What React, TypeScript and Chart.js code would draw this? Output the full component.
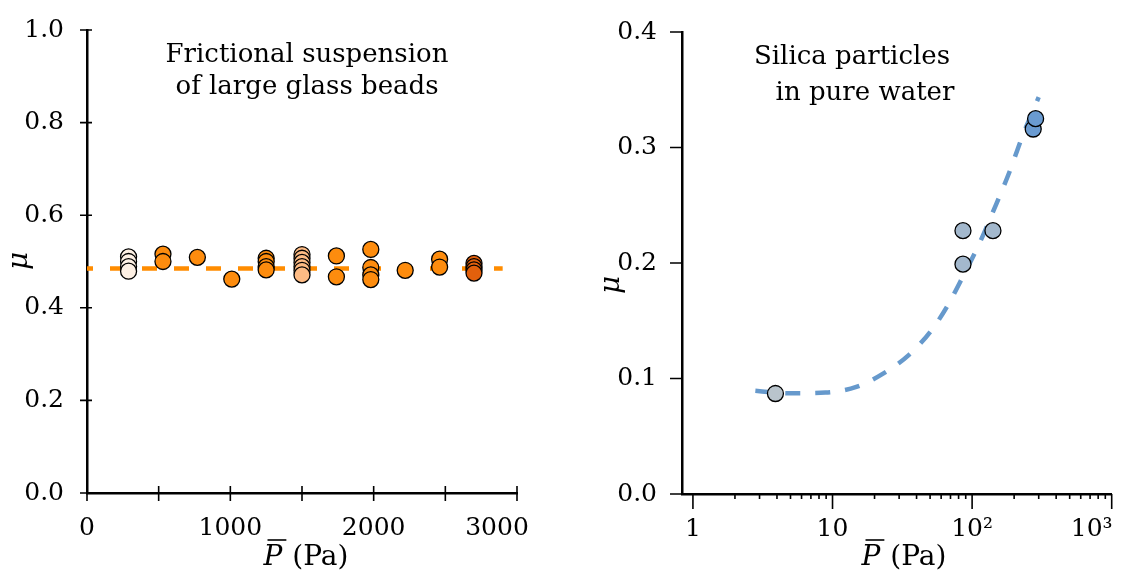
import React, { useEffect, useRef } from 'react';
import { Chart, registerables } from 'chart.js';

Chart.register(...registerables);

const FONT = '"DejaVu Serif", "Liberation Serif", serif';

// ---------- Left panel: frictional suspension of large glass beads ----------
const glassPressure = [290, 530, 770, 1010, 1250, 1500, 1740, 1980, 2220, 2460, 2700];
const glassMu: number[][] = [
  [0.51, 0.5, 0.489, 0.479],
  [0.516, 0.5],
  [0.509],
  [0.462],
  [0.507, 0.5, 0.489, 0.482],
  [0.515, 0.507, 0.498, 0.489, 0.481, 0.471],
  [0.512, 0.467],
  [0.526, 0.487, 0.471, 0.461],
  [0.481],
  [0.505, 0.488],
  [0.496, 0.489, 0.482, 0.475],
];
const glassColors = [
  '#fdf0e4', '#fd8c0e', '#fd8c0e', '#fd8c0e', '#fd8c0e', '#fdbb84',
  '#fd8c0e', '#fd8c0e', '#fd8c0e', '#fd8c0e', '#e2600c',
];
const glassFitP = [0, 2900];
const glassFitMu = [0.485, 0.485];
const glassYTicks = [0, 0.2, 0.4, 0.6, 0.8, 1.0];
const glassYLabels = ['0.0', '0.2', '0.4', '0.6', '0.8', '1.0'];
const glassXTicks = [0, 500, 1000, 1500, 2000, 2500, 3000];
const glassXLabelValues = [0, 1000, 2000, 3000];
const glassXLabels = ['0', '1000', '2000', '3000'];
const glassTitle = ['Frictional suspension', 'of large glass beads'];

// ---------- Right panel: silica particles in pure water ----------
const silicaPressure = [3.9, 86, 141, 86, 274, 285];
const silicaMu = [0.087, 0.228, 0.228, 0.199, 0.316, 0.325];
const silicaColors = ['#b9c4cc', '#a3b8cd', '#a3b8cd', '#a3b8cd', '#6a9bd1', '#6a9bd1'];
const silicaFitP = [2.8, 3.9, 5.1, 8.9, 14.8, 23.5, 35.3, 50.2, 65.8, 86.3, 113, 141, 184.5, 229, 300];
const silicaFitMu = [0.0893, 0.0878, 0.0872, 0.0878, 0.0927, 0.1049, 0.1205, 0.1405, 0.1618, 0.1887, 0.2172, 0.2442, 0.2783, 0.3096, 0.3437];
const silicaYTicks = [0, 0.1, 0.2, 0.3, 0.4];
const silicaYLabels = ['0.0', '0.1', '0.2', '0.3', '0.4'];
const silicaXMajor = [1, 10, 100, 1000];
const silicaXLabels = ['1', '10', '10²', '10³'];
const silicaXMinor = [2, 3, 4, 5, 6, 7, 8, 9, 20, 30, 40, 50, 60, 70, 80, 90, 200, 300, 400, 500, 600, 700, 800, 900];
const silicaTitle = ['Silica particles', 'in pure water'];

type DecorCfg = {
  name: string;
  yTicks: number[];
  yOut: number;
  yIn: number;
  xMajor: number[];
  xMinor: number[];
  xOut: number;
  xIn: number;
  xMinorOut: number;
  xLabelValues: number[];
  xLabels: string[];
  lastLabelShift: number;
  titleLines: string[];
  titleCenters: number[];
  titleBaselines: number[];
  xTitleCenter: number;
  muPos: [number, number];
};

function makeDecor(cfg: DecorCfg) {
  return {
    id: 'decor-' + cfg.name,
    afterDraw(chart: any) {
      const ctx: CanvasRenderingContext2D = chart.ctx;
      const xs = chart.scales.x;
      const ys = chart.scales.y;
      const a = chart.chartArea;
      ctx.save();
      ctx.strokeStyle = '#000';
      ctx.fillStyle = '#000';
      ctx.lineWidth = 1.6;
      ctx.beginPath();
      for (const v of cfg.yTicks) {
        const py = ys.getPixelForValue(v);
        ctx.moveTo(a.left - cfg.yOut, py);
        ctx.lineTo(a.left + cfg.yIn, py);
      }
      for (const v of cfg.xMajor) {
        const px = xs.getPixelForValue(v);
        ctx.moveTo(px, a.bottom - cfg.xIn);
        ctx.lineTo(px, a.bottom + cfg.xOut);
      }
      for (const v of cfg.xMinor) {
        const px = xs.getPixelForValue(v);
        ctx.moveTo(px, a.bottom);
        ctx.lineTo(px, a.bottom + cfg.xMinorOut);
      }
      ctx.stroke();

      // x tick labels
      ctx.font = `25px ${FONT}`;
      ctx.textAlign = 'center';
      ctx.textBaseline = 'middle';
      cfg.xLabelValues.forEach((v, i) => {
        let px = xs.getPixelForValue(v);
        if (i === cfg.xLabelValues.length - 1) px += cfg.lastLabelShift;
        ctx.fillText(cfg.xLabels[i], px, a.bottom + 35);
      });

      // x axis title: P-bar (Pa)
      ctx.textBaseline = 'alphabetic';
      ctx.textAlign = 'left';
      const base = 565;
      ctx.font = `italic 28px ${FONT}`;
      const wP = ctx.measureText('P').width;
      ctx.font = `28px ${FONT}`;
      const wGap = 10;
      const wRest = ctx.measureText('(Pa)').width;
      const x0 = cfg.xTitleCenter - (wP + wGap + wRest) / 2;
      ctx.font = `italic 28px ${FONT}`;
      ctx.fillText('P', x0, base);
      ctx.lineWidth = 1.6;
      ctx.beginPath();
      ctx.moveTo(x0 + 4, base - 25);
      ctx.lineTo(x0 + wP + 4, base - 25);
      ctx.stroke();
      ctx.font = `28px ${FONT}`;
      ctx.fillText('(Pa)', x0 + wP + wGap, base);

      // y axis title
      ctx.save();
      ctx.translate(cfg.muPos[0], cfg.muPos[1]);
      ctx.rotate(-Math.PI / 2);
      ctx.font = `italic 28px ${FONT}`;
      ctx.textAlign = 'center';
      ctx.textBaseline = 'middle';
      ctx.fillText('μ', 0, 0);
      ctx.restore();

      // panel title
      ctx.font = `26px ${FONT}`;
      ctx.textAlign = 'center';
      ctx.textBaseline = 'alphabetic';
      cfg.titleLines.forEach((t, i) => {
        ctx.fillText(t, cfg.titleCenters[i], cfg.titleBaselines[i]);
      });
      ctx.restore();
    },
  };
}

const baseAxis = {
  grid: { display: false },
  border: { display: true, color: '#000', width: 2.5 },
};

function glassConfig(): any {
  const pts: { x: number; y: number }[] = [];
  const cols: string[] = [];
  glassPressure.forEach((p, i) => {
    glassMu[i].forEach((m) => {
      pts.push({ x: p, y: m });
      cols.push(glassColors[i]);
    });
  });
  return {
    type: 'scatter',
    data: {
      datasets: [
        {
          type: 'scatter',
          data: pts,
          pointRadius: 8,
          pointBorderWidth: 1.3,
          pointBorderColor: '#000',
          pointBackgroundColor: cols,
          backgroundColor: cols,
          borderColor: '#000',
          order: 0,
        },
        {
          type: 'line',
          data: glassFitP.map((p, i) => ({ x: p, y: glassFitMu[i] })),
          borderColor: '#ff8c00',
          borderWidth: 4.5,
          borderDash: [15, 17],
          borderDashOffset: 9,
          pointRadius: 0,
          fill: false,
          order: 5,
        },
      ],
    },
    options: {
      responsive: false,
      animation: false,
      devicePixelRatio: 1,
      layout: { padding: { top: 21, right: 43, left: 0, bottom: 0 } },
      plugins: { legend: { display: false }, tooltip: { enabled: false } },
      scales: {
        x: {
          ...baseAxis,
          type: 'linear',
          min: 0,
          max: 3000,
          ticks: { display: false },
          afterFit: (s: any) => { s.height = 80; },
        },
        y: {
          ...baseAxis,
          type: 'linear',
          min: 0,
          max: 1,
          afterBuildTicks: (s: any) => { s.ticks = glassYTicks.map((v) => ({ value: v })); },
          ticks: {
            color: '#000',
            padding: 15,
            font: { family: FONT, size: 25 },
            callback: (_v: any, i: number) => glassYLabels[i],
          },
          afterFit: (s: any) => { s.width = 87; },
        },
      },
    },
    plugins: [
      makeDecor({
        name: 'glass',
        yTicks: glassYTicks,
        yOut: 7,
        yIn: 5,
        xMajor: glassXTicks,
        xMinor: [],
        xOut: 8,
        xIn: 7,
        xMinorOut: 0,
        xLabelValues: glassXLabelValues,
        xLabels: glassXLabels,
        lastLabelShift: -20,
        titleLines: glassTitle,
        titleCenters: [307, 307],
        titleBaselines: [62, 94],
        xTitleCenter: 306,
        muPos: [20, 261],
      }),
    ],
  };
}

function silicaConfig(): any {
  return {
    type: 'scatter',
    data: {
      datasets: [
        {
          type: 'scatter',
          data: silicaPressure.map((p, i) => ({ x: p, y: silicaMu[i] })),
          pointRadius: 8,
          pointBorderWidth: 1.3,
          pointBorderColor: '#000',
          pointBackgroundColor: silicaColors,
          backgroundColor: silicaColors,
          borderColor: '#000',
          order: 0,
        },
        {
          type: 'line',
          data: silicaFitP.map((p, i) => ({ x: p, y: silicaFitMu[i] })),
          borderColor: '#6699cc',
          borderWidth: 4.5,
          borderDash: [15, 15],
          cubicInterpolationMode: 'monotone',
          pointRadius: 0,
          fill: false,
          order: 5,
        },
      ],
    },
    options: {
      responsive: false,
      animation: false,
      devicePixelRatio: 1,
      layout: { padding: { top: 24, right: 4, left: 0, bottom: 0 } },
      plugins: { legend: { display: false }, tooltip: { enabled: false } },
      scales: {
        x: {
          ...baseAxis,
          type: 'logarithmic',
          min: 0.835,
          max: 1000,
          ticks: { display: false },
          afterFit: (s: any) => { s.height = 79; },
        },
        y: {
          ...baseAxis,
          type: 'linear',
          min: 0,
          max: 0.4,
          afterBuildTicks: (s: any) => { s.ticks = silicaYTicks.map((v) => ({ value: v })); },
          ticks: {
            color: '#000',
            padding: 17,
            font: { family: FONT, size: 25 },
            callback: (_v: any, i: number) => silicaYLabels[i],
          },
          afterFit: (s: any) => { s.width = 122; },
        },
      },
    },
    plugins: [
      makeDecor({
        name: 'silica',
        yTicks: silicaYTicks,
        yOut: 12,
        yIn: 0,
        xMajor: silicaXMajor,
        xMinor: silicaXMinor,
        xOut: 15,
        xIn: 0,
        xMinorOut: 5,
        xLabelValues: silicaXMajor,
        xLabels: silicaXLabels,
        lastLabelShift: -20,
        titleLines: silicaTitle,
        titleCenters: [292, 305],
        titleBaselines: [64, 100],
        xTitleCenter: 344,
        muPos: [52, 285],
      }),
    ],
  };
}

export default function App() {
  const leftRef = useRef<HTMLCanvasElement | null>(null);
  const rightRef = useRef<HTMLCanvasElement | null>(null);

  useEffect(() => {
    const c1 = new Chart(leftRef.current as HTMLCanvasElement, glassConfig());
    const c2 = new Chart(rightRef.current as HTMLCanvasElement, silicaConfig());
    return () => {
      c1.destroy();
      c2.destroy();
    };
  }, []);

  return (
    <div style={{ position: 'absolute', left: 0, top: 0, width: 1121, height: 573, background: '#fff' }}>
      <canvas
        ref={leftRef}
        width={560}
        height={573}
        style={{ position: 'absolute', left: 0, top: 0, width: 560, height: 573 }}
      />
      <canvas
        ref={rightRef}
        width={561}
        height={573}
        style={{ position: 'absolute', left: 560, top: 0, width: 561, height: 573 }}
      />
    </div>
  );
}
